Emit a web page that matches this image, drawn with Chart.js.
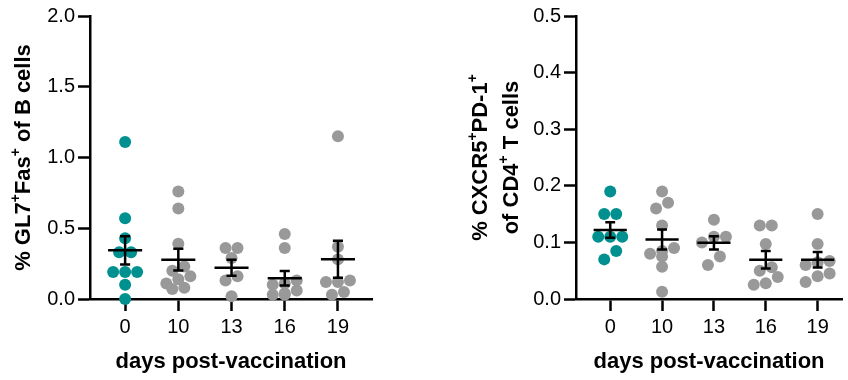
<!DOCTYPE html>
<html lang="en">
<head>
<meta charset="UTF-8">
<title>GC B cells and Tfh cells after vaccination</title>
<script src="https://cdn.jsdelivr.net/npm/chart.js@4.4.0/dist/chart.umd.min.js"></script>
<style>
    * { margin: 0; padding: 0; box-sizing: border-box; }
    body { background: #fff; width: 848px; height: 380px; overflow: hidden; }
    .row { display: flex; }
    .panel { width: 424px; height: 380px; }
</style>
</head>
<body>
<div class="row">
    <div class="panel"><canvas id="gcChart" width="424" height="380"></canvas></div>
    <div class="panel"><canvas id="tfhChart" width="424" height="380"></canvas></div>
</div>
<script>
// Categories
const days = ['0', '10', '13', '16', '19'];

// % GL7+Fas+ of B cells
const gcDay0  = [1.11, 0.57, 0.43, 0.33, 0.33, 0.19, 0.19, 0.19, 0.10, 0.00];
const gcDay10 = [0.76, 0.64, 0.39, 0.23, 0.20, 0.16, 0.14, 0.11, 0.08, 0.07];
const gcDay13 = [0.36, 0.36, 0.29, 0.16, 0.13, 0.02];
const gcDay16 = [0.46, 0.36, 0.13, 0.11, 0.10, 0.06, 0.04, 0.03, 0.03];
const gcDay19 = [1.15, 0.37, 0.28, 0.13, 0.12, 0.12, 0.05, 0.03];

// % CXCR5+PD-1+ of CD4+ T cells
const tfhDay0  = [0.19, 0.15, 0.15, 0.11, 0.11, 0.11, 0.085, 0.07];
const tfhDay10 = [0.19, 0.17, 0.16, 0.13, 0.09, 0.085, 0.08, 0.075, 0.057, 0.013];
const tfhDay13 = [0.14, 0.11, 0.11, 0.10, 0.075, 0.06];
const tfhDay16 = [0.13, 0.13, 0.097, 0.056, 0.05, 0.039, 0.028, 0.025];
const tfhDay19 = [0.15, 0.097, 0.067, 0.065, 0.06, 0.045, 0.04, 0.03];

// y axis ranges
const gcMax = 2.0, gcStep = 0.5;
const tfhMax = 0.5, tfhStep = 0.1;

const TEAL = '#00908f';
const GREY = '#999999';
const FONT = 'Liberation Sans, Arial, sans-serif';
const DOT = 12; // dot diameter in px

function mean(a) { return a.reduce((s, v) => s + v, 0) / a.length; }
function sem(a) {
    const m = mean(a);
    const sd = Math.sqrt(a.reduce((s, v) => s + (v - m) * (v - m), 0) / (a.length - 1));
    return sd / Math.sqrt(a.length);
}

// mean line + SEM whiskers on top of the dots
const meanSemPlugin = {
    id: 'meanSem',
    afterDatasetsDraw(chart, args, opts) {
        const { ctx, scales: { x, y } } = chart;
        const step = x.getPixelForValue(1) - x.getPixelForValue(0);
        ctx.save();
        ctx.strokeStyle = '#000';
        ctx.lineWidth = 2.5;
        opts.groups.forEach((vals, i) => {
            const m = mean(vals), e = sem(vals);
            const cx = x.getPixelForValue(i);
            const ym = y.getPixelForValue(m);
            const yt = y.getPixelForValue(m + e);
            const yb = y.getPixelForValue(m - e);
            const half = step * 0.32, cap = step * 0.095;
            ctx.beginPath();
            ctx.moveTo(cx - half, ym); ctx.lineTo(cx + half, ym);
            ctx.moveTo(cx, yt); ctx.lineTo(cx, yb);
            ctx.moveTo(cx - cap, yt); ctx.lineTo(cx + cap, yt);
            ctx.moveTo(cx - cap, yb); ctx.lineTo(cx + cap, yb);
            ctx.stroke();
        });
        ctx.restore();
    }
};

// rotated y title with superscripts
const richTitlePlugin = {
    id: 'richTitle',
    afterDraw(chart, args, opts) {
        const ctx = chart.ctx;
        const cy = (chart.chartArea.top + chart.chartArea.bottom) / 2;
        const main = 'bold 22px ' + FONT, sup = 'bold 14px ' + FONT;
        opts.lines.forEach((parts, li) => {
            ctx.save();
            ctx.translate(opts.xs[li], cy);
            ctx.rotate(-Math.PI / 2);
            ctx.textBaseline = 'middle';
            ctx.textAlign = 'left';
            ctx.fillStyle = '#000';
            let total = 0;
            parts.forEach(p => { ctx.font = p[1] ? sup : main; total += ctx.measureText(p[0]).width; });
            let px = -total / 2;
            parts.forEach(p => {
                ctx.font = p[1] ? sup : main;
                ctx.fillText(p[0], px, p[1] ? -8 : 0);
                px += ctx.measureText(p[0]).width;
            });
            ctx.restore();
        });
    }
};

// Prism-like column scatter: values close in y share a row (max 3), spread symmetrically
function swarm(vals, gi, xs, ys) {
    const step = xs.getPixelForValue(1) - xs.getPixelForValue(0);
    const sorted = vals.slice().sort((a, b) => b - a);
    const rows = [];
    sorted.forEach(v => {
        const py = ys.getPixelForValue(v);
        const row = rows[rows.length - 1];
        if (row && row.items.length < 3 && py - row.start < DOT * 0.75) row.items.push(v);
        else rows.push({ start: py, items: [v] });
    });
    const pts = [];
    rows.forEach(r => {
        const items = r.items.slice().sort((a, b) => a - b);
        const n = items.length;
        items.forEach((v, k) => pts.push({ x: gi + (k - (n - 1) / 2) * DOT / step, y: v }));
    });
    return pts;
}

function makeChart(id, groups, yMax, yStep, yWidth, xMax, padRight, titleLines, titleXs) {
    const tickFont = { family: FONT, size: 20 };
    const chart = new Chart(document.getElementById(id), {
        type: 'scatter',
        data: {
            datasets: groups.map((vals, i) => ({
                data: vals.map(v => ({ x: i, y: v })),
                backgroundColor: i === 0 ? TEAL : GREY,
                borderWidth: 0,
                pointRadius: DOT / 2,
                pointHoverRadius: DOT / 2,
                clip: false
            }))
        },
        options: {
            responsive: false,
            animation: false,
            devicePixelRatio: 1,
            layout: { padding: { top: 16, right: padRight, left: 0, bottom: 0 } },
            plugins: {
                legend: { display: false },
                tooltip: { enabled: false },
                meanSem: { groups },
                richTitle: { lines: titleLines, xs: titleXs }
            },
            scales: {
                x: {
                    type: 'linear',
                    min: -0.66,
                    max: xMax,
                    afterBuildTicks: s => { s.ticks = days.map((d, i) => ({ value: i })); },
                    ticks: { callback: v => days[v], font: tickFont, color: '#000', padding: 4, maxRotation: 0 },
                    grid: { drawOnChartArea: false, drawTicks: true, tickLength: 12, tickWidth: 2.5, tickColor: '#000' },
                    border: { color: '#000', width: 2.5 },
                    title: {
                        display: true, text: 'days post-vaccination', color: '#000',
                        font: { family: FONT, size: 22, weight: 'bold' }, padding: { top: 0, bottom: 5 }
                    },
                    afterFit: s => { s.height = 81; }
                },
                y: {
                    min: 0,
                    max: yMax,
                    ticks: { stepSize: yStep, callback: v => v.toFixed(1), font: tickFont, color: '#000', padding: 3 },
                    grid: { drawOnChartArea: false, drawTicks: true, tickLength: 12, tickWidth: 2.5, tickColor: '#000' },
                    border: { color: '#000', width: 2.5 },
                    afterFit: s => { s.width = yWidth; }
                }
            }
        },
        plugins: [meanSemPlugin, richTitlePlugin]
    });
    chart.data.datasets.forEach((ds, i) => {
        ds.data = swarm(groups[i], i, chart.scales.x, chart.scales.y);
    });
    chart.update('none');
    return chart;
}

makeChart('gcChart',
    [gcDay0, gcDay10, gcDay13, gcDay16, gcDay19],
    gcMax, gcStep, 90, 4.64, 52,
    [[['% GL7', 0], ['+', 1], ['Fas', 0], ['+', 1], [' of B cells', 0]]],
    [24]);

makeChart('tfhChart',
    [tfhDay0, tfhDay10, tfhDay13, tfhDay16, tfhDay19],
    tfhMax, tfhStep, 152, 4.47, 0,
    [[['% CXCR5', 0], ['+', 1], ['PD-1', 0], ['+', 1]],
     [['of CD4', 0], ['+', 1], [' T cells', 0]]],
    [57, 88]);
</script>
</body>
</html>
